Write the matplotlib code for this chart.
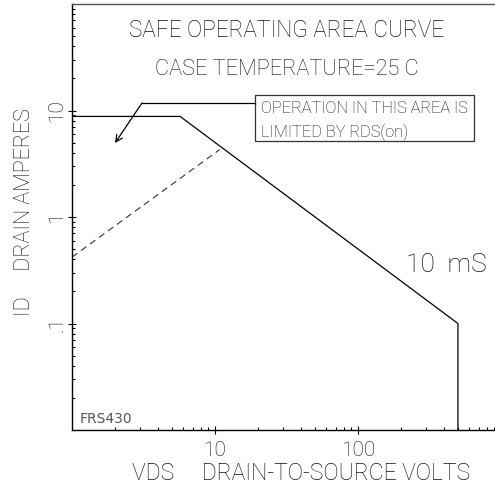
import matplotlib
matplotlib.use("Agg")
import matplotlib.pyplot as plt
from matplotlib.patches import Rectangle
from matplotlib.ticker import LogLocator, NullFormatter, FixedLocator

plt.rcParams['font.family'] = ['Roboto', 'DejaVu Sans']
plt.rcParams['font.weight'] = 'light'

# ---- data ----
soa_vds = [1, 5.7, 500, 500]          # volts
soa_id = [8.8, 8.8, 0.1, 0.01]        # amperes
rds_vds = [1, 10.8]
rds_id = [0.42, 4.3]
x_ticks = [10, 100]
x_ticklabels = ["10", "100"]
y_ticks = [0.1, 1, 10]
y_ticklabels = [".1", "1", "10"]

W, H = 495, 491
fig = plt.figure(figsize=(W / 100, H / 100), dpi=100)
ax = fig.add_axes([72 / W, 1 - 430 / H, (W - 72) / W, (430 - 4) / H])
ax.set_xscale('log')
ax.set_yscale('log')
ax.set_xlim(1, 908)
ax.set_ylim(0.01, 100)

ax.plot(soa_vds, soa_id, color='black', lw=0.9)
ax.plot(rds_vds, rds_id, color='#333333', lw=0.8, dashes=(6, 4))

ax.spines['right'].set_visible(False)
ax.spines['top'].set_color('#555555')
for s in ['left', 'bottom', 'top']:
    ax.spines[s].set_linewidth(1.0)

ax.xaxis.set_major_locator(FixedLocator(x_ticks))
ax.set_xticklabels(x_ticklabels)
ax.yaxis.set_major_locator(FixedLocator(y_ticks))
ax.set_yticklabels(y_ticklabels, rotation=90, va='center')
ax.xaxis.set_minor_locator(LogLocator(base=10, subs=range(2, 10)))
ax.yaxis.set_minor_locator(LogLocator(base=10, subs=range(2, 10)))
ax.xaxis.set_minor_formatter(NullFormatter())
ax.yaxis.set_minor_formatter(NullFormatter())
ax.tick_params(which='major', direction='inout', length=6, width=0.8,
               labelsize=15, colors='black', labelcolor='#111111')
ax.tick_params(which='minor', direction='in', length=2.5, width=0.8)
ax.tick_params(axis='x', which='major', pad=5)
ax.tick_params(axis='y', which='major', pad=1)

txt = dict(color='#111111')
ax.text(0.508, 0.9225, "SAFE OPERATING AREA CURVE", transform=ax.transAxes,
        ha='center', va='baseline', fontsize=16.3, **txt)
ax.text(0.508, 0.833, "CASE TEMPERATURE=25 C", transform=ax.transAxes,
        ha='center', va='baseline', fontsize=15.7, **txt)

# annotation box
bx0, bx1 = (255 - 72) / 423, (474 - 72) / 423
by0, by1 = (430 - 141) / 426, (430 - 95) / 426
ax.add_patch(Rectangle((bx0, by0), bx1 - bx0, by1 - by0, transform=ax.transAxes,
                       fill=False, edgecolor='#333333', lw=0.9))
ax.text(0.447, 0.744, "OPERATION IN THIS AREA IS", transform=ax.transAxes,
        ha='left', va='baseline', fontsize=11.8, **txt)
ax.text(0.447, 0.688, "LIMITED BY RDS(on)", transform=ax.transAxes,
        ha='left', va='baseline', fontsize=11.8, **txt)
elbow = (0.1655, 0.7676)
ax.plot([bx0, elbow[0]], [elbow[1], elbow[1]], transform=ax.transAxes,
        color='black', lw=0.9)
ax.annotate("", xy=(0.1017, 0.6737), xycoords='axes fraction',
            xytext=elbow, textcoords='axes fraction',
            arrowprops=dict(arrowstyle='->', color='black', lw=0.9,
                            shrinkA=0, shrinkB=0, mutation_scale=12))

ax.text(0.884, 0.371, "10  mS", transform=ax.transAxes, ha='center',
        va='baseline', fontsize=19, **txt)
ax.text(0.019, 0.0164, "FRS430", transform=ax.transAxes, ha='left',
        va='baseline', fontsize=10, color='#555555', family='DejaVu Sans',
        weight='normal')

fig.text(301 / W, 1 - 480 / H, "VDS     DRAIN-TO-SOURCE VOLTS", ha='center',
         va='baseline', fontsize=16.5, **txt)
fig.text(25 / W, 1 - 212.5 / H, "ID     DRAIN AMPERES", ha='center',
         va='center', fontsize=15.5, rotation=90, **txt)

fig.savefig("out.png", dpi=100)
